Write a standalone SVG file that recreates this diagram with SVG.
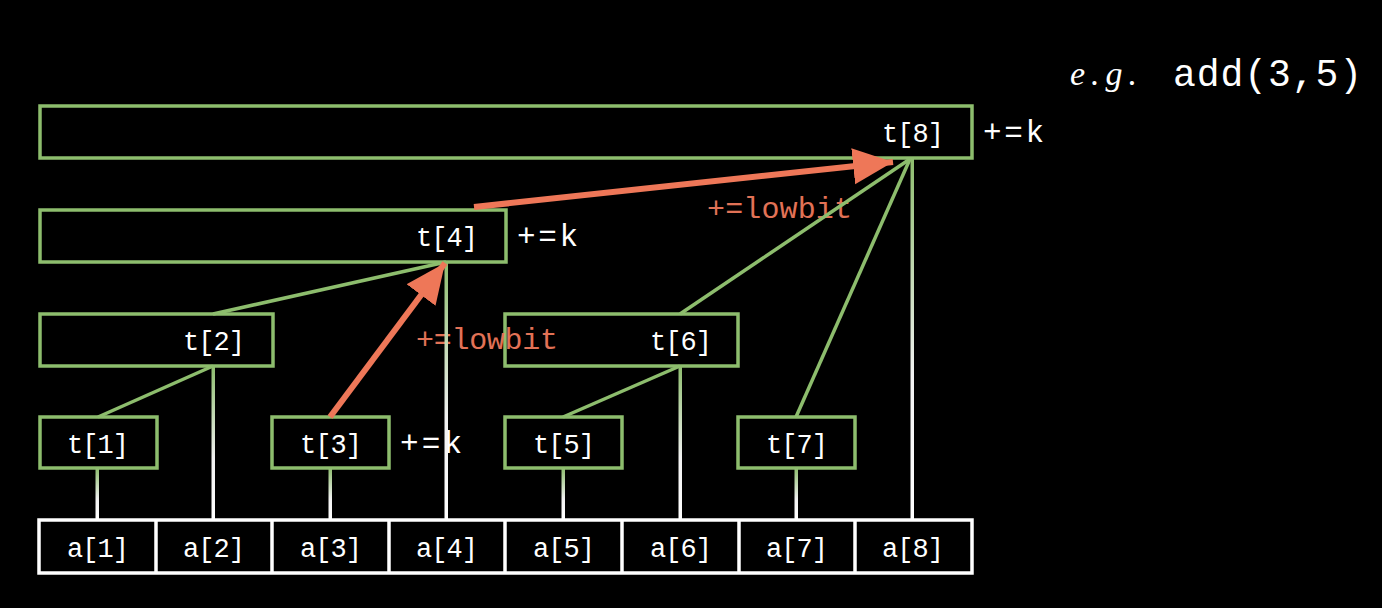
<svg xmlns="http://www.w3.org/2000/svg" width="1382" height="608" viewBox="0 0 1382 608">
<style>
.bg{fill:#000}
.tbox{fill:#000;stroke:#8dbd6d;stroke-width:3.5}
.abox{fill:#000;stroke:#fff;stroke-width:3.5}
.lbl{font-family:"Liberation Mono","DejaVu Sans Mono",monospace;font-size:27px;fill:#fff}
.op{font-family:"Liberation Mono","DejaVu Sans Mono",monospace;font-size:31px;fill:#fff}
.low{font-family:"Liberation Mono","DejaVu Sans Mono",monospace;font-size:30px;fill:#e27256}
.edge{stroke:#8dbd6d;stroke-width:3.5;fill:none}
.arrow{stroke:#ee7758;stroke-width:6;fill:none}
.vline{fill:url(#gw)}
</style>
<defs>
<linearGradient id="gw" x1="0" y1="0" x2="0" y2="1">
<stop offset="0" stop-color="#8dbd6d"/>
<stop offset="0.6" stop-color="#f2f2f2"/>
<stop offset="1" stop-color="#ffffff"/>
</linearGradient>
<marker id="ah" markerUnits="userSpaceOnUse" markerWidth="46" markerHeight="40" refX="40" refY="18" orient="auto">
<path d="M0,0 L40,18 L0,36 Z" fill="#ee7758"/>
</marker>
</defs>
<rect class="bg" x="0" y="0" width="1382" height="608"/>

<g id="title">
<text x="1070" y="85" font-family="Liberation Serif,serif" font-style="italic" font-size="34" fill="#fff" textLength="67">e.g.</text>
<text x="1173" y="86" class="op" style="font-size:38px" textLength="189">add(3,5)</text>
</g>

<g id="t8"><rect class="tbox" x="40" y="106" width="932" height="52"/><text class="lbl" x="882" y="142" textLength="62">t[8]</text></g>
<g id="t4"><rect class="tbox" x="40" y="210" width="466" height="52"/><text class="lbl" x="416" y="246" textLength="62">t[4]</text></g>
<g id="t2"><rect class="tbox" x="40" y="314" width="233" height="52"/><text class="lbl" x="183" y="350" textLength="62">t[2]</text></g>
<g id="t6"><rect class="tbox" x="505" y="314" width="233" height="52"/><text class="lbl" x="650" y="350" textLength="62">t[6]</text></g>
<g id="t1"><rect class="tbox" x="40" y="417" width="117" height="51"/><text class="lbl" x="67" y="453" textLength="62">t[1]</text></g>
<g id="t3"><rect class="tbox" x="272" y="417" width="117" height="51"/><text class="lbl" x="300" y="453" textLength="62">t[3]</text></g>
<g id="t5"><rect class="tbox" x="505" y="417" width="117" height="51"/><text class="lbl" x="533" y="453" textLength="62">t[5]</text></g>
<g id="t7"><rect class="tbox" x="738" y="417" width="117" height="51"/><text class="lbl" x="766" y="453" textLength="62">t[7]</text></g>

<g id="array">
<rect class="abox" x="39" y="520" width="933" height="53"/>
<g stroke="#fff" stroke-width="3.5">
<line x1="156" y1="520" x2="156" y2="573"/>
<line x1="272" y1="520" x2="272" y2="573"/>
<line x1="389" y1="520" x2="389" y2="573"/>
<line x1="505" y1="520" x2="505" y2="573"/>
<line x1="622" y1="520" x2="622" y2="573"/>
<line x1="739" y1="520" x2="739" y2="573"/>
<line x1="855" y1="520" x2="855" y2="573"/>
</g>
<text class="lbl" x="67" y="557" textLength="62">a[1]</text>
<text class="lbl" x="183" y="557" textLength="62">a[2]</text>
<text class="lbl" x="300" y="557" textLength="62">a[3]</text>
<text class="lbl" x="416" y="557" textLength="62">a[4]</text>
<text class="lbl" x="533" y="557" textLength="62">a[5]</text>
<text class="lbl" x="650" y="557" textLength="62">a[6]</text>
<text class="lbl" x="766" y="557" textLength="62">a[7]</text>
<text class="lbl" x="882" y="557" textLength="62">a[8]</text>
</g>

<g id="ops">
<text class="op" x="983" y="142" textLength="61">+=k</text>
<text class="op" x="517" y="246" textLength="61">+=k</text>
<text class="op" x="400" y="453" textLength="62">+=k</text>
<text class="low" x="707" y="218" textLength="145">+=lowbit</text>
<text class="low" x="416" y="349" textLength="142">+=lowbit</text>
</g>

<g id="connectors">
<rect class="vline" x="95.5" y="468" width="3.5" height="52"/>
<rect class="vline" x="211.5" y="366" width="3.5" height="154"/>
<rect class="vline" x="328.5" y="468" width="3.5" height="52"/>
<rect class="vline" x="444.5" y="262" width="3.5" height="258"/>
<rect class="vline" x="561.5" y="468" width="3.5" height="52"/>
<rect class="vline" x="678.5" y="366" width="3.5" height="154"/>
<rect class="vline" x="794.5" y="468" width="3.5" height="52"/>
<rect class="vline" x="910.5" y="158" width="3.5" height="362"/>
<line class="edge" x1="98" y1="417" x2="213" y2="366"/>
<line class="edge" x1="213" y1="314" x2="446" y2="262"/>
<line class="edge" x1="563" y1="417" x2="680" y2="366"/>
<line class="edge" x1="680" y1="314" x2="910" y2="159"/>
<line class="edge" x1="796" y1="417" x2="910" y2="159"/>
<line class="arrow" x1="330" y1="417" x2="445" y2="263" marker-end="url(#ah)"/>
<line class="arrow" x1="474" y1="207" x2="893" y2="162" marker-end="url(#ah)"/>
</g>
</svg>
